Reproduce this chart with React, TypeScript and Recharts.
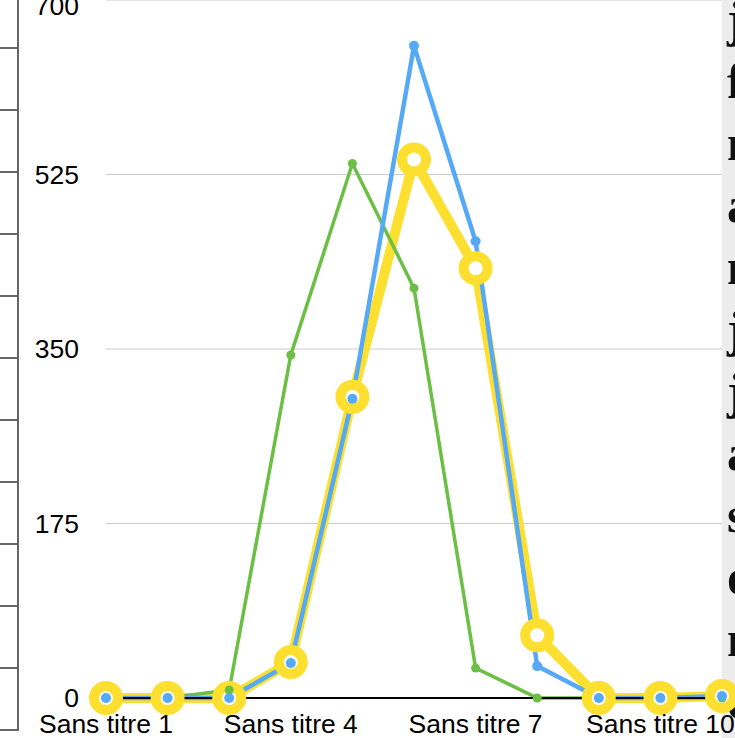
import React from "react";
import { LineChart, Line, XAxis, YAxis, CartesianGrid } from "recharts";

const categories = [
  "Sans titre 1",
  "Sans titre 2",
  "Sans titre 3",
  "Sans titre 4",
  "Sans titre 5",
  "Sans titre 6",
  "Sans titre 7",
  "Sans titre 8",
  "Sans titre 9",
  "Sans titre 10",
  "Sans titre 11",
];

const yellowValues = [0, 0, 0, 36, 302, 540, 431, 63, 0, 0, 2];
const greenValues = [0, 0, 8, 344, 536, 411, 30, 0, 0, 0, 0];
const blueValues = [0, 0, 0, 35, 300, 654, 458, 32, 0, 0, 2];

const yTicks = [0, 175, 350, 525, 700];

const months = [
  "janvier",
  "février",
  "mars",
  "avril",
  "mai",
  "juin",
  "juillet",
  "août",
  "septembre",
  "octobre",
  "novembre",
  "décembre",
];

const YELLOW = "#fde02f";
const GREEN = "#6cbf45";
const BLUE = "#56aaf5";

const data = categories.map((name, i) => ({
  name,
  yellow: yellowValues[i],
  green: greenValues[i],
  blue: blueValues[i],
}));

// side ruler on the far left (cut-off neighbour widget)
const SideRuler = () => (
  <div style={{ position: "absolute", left: 0, top: 0, width: 20, height: 738 }}>
    <div
      style={{
        position: "absolute",
        left: 17,
        top: 0,
        width: 2,
        height: 731,
        background: "#666",
      }}
    />
    {months.map((m, i) => (
      <div
        key={m}
        style={{
          position: "absolute",
          left: 0,
          top: 47 + i * 62,
          width: 19,
          height: 2,
          background: "#666",
        }}
      />
    ))}
  </div>
);

// grey text column on the right (cut off by the window)
const MonthPanel = () => (
  <div
    style={{
      position: "absolute",
      left: 722,
      top: 0,
      width: 200,
      height: 738,
      background: "#ececec",
      overflow: "hidden",
    }}
  >
    <div
      style={{
        position: "absolute",
        left: 5,
        top: -12,
        fontFamily: "'Liberation Serif', 'Times New Roman', serif",
        fontWeight: "bold",
        fontSize: 50,
        lineHeight: "62px",
        color: "#111",
      }}
    >
      {months.map((m) => (
        <div key={m}>{m}</div>
      ))}
    </div>
  </div>
);

export default function App() {
  return (
    <div
      style={{
        position: "fixed",
        left: 0,
        top: 0,
        width: 735,
        height: 738,
        overflow: "hidden",
        background: "#fff",
      }}
    >
      <SideRuler />
      <MonthPanel />
      <div style={{ position: "absolute", left: 0, top: -10 }}>
        <LineChart
          width={735}
          height={748}
          data={data}
          margin={{ top: 10, right: 13, left: 0, bottom: 0 }}
          style={{ overflow: "visible" }}
        >
          <CartesianGrid vertical={false} stroke="#cccccc" strokeWidth={1} />
          <XAxis
            dataKey="name"
            interval={2}
            tickLine={false}
            tickSize={0}
            tickMargin={16}
            height={40}
            axisLine={{ stroke: "#000", strokeWidth: 2 }}
            tick={{ fill: "#000", fontSize: 26.5, fontFamily: "'Liberation Sans', Arial, sans-serif" }}
          />
          <YAxis
            domain={[0, 700]}
            ticks={yTicks}
            width={106}
            axisLine={false}
            tickLine={false}
            tickSize={0}
            tickMargin={27}
            tick={{ fill: "#000", fontSize: 26.5, fontFamily: "'Liberation Sans', Arial, sans-serif" }}
          />
          <Line
            dataKey="yellow"
            stroke={YELLOW}
            strokeWidth={10}
            dot={{ r: 12, fill: "#fff", stroke: YELLOW, strokeWidth: 10 }}
            isAnimationActive={false}
          />
          <Line
            dataKey="green"
            stroke={GREEN}
            strokeWidth={3.5}
            dot={{ r: 4.5, fill: GREEN, stroke: GREEN, strokeWidth: 0 }}
            isAnimationActive={false}
          />
          <Line
            dataKey="blue"
            stroke={BLUE}
            strokeWidth={4.5}
            dot={{ r: 5, fill: BLUE, stroke: BLUE, strokeWidth: 0 }}
            isAnimationActive={false}
          />
        </LineChart>
      </div>
    </div>
  );
}
